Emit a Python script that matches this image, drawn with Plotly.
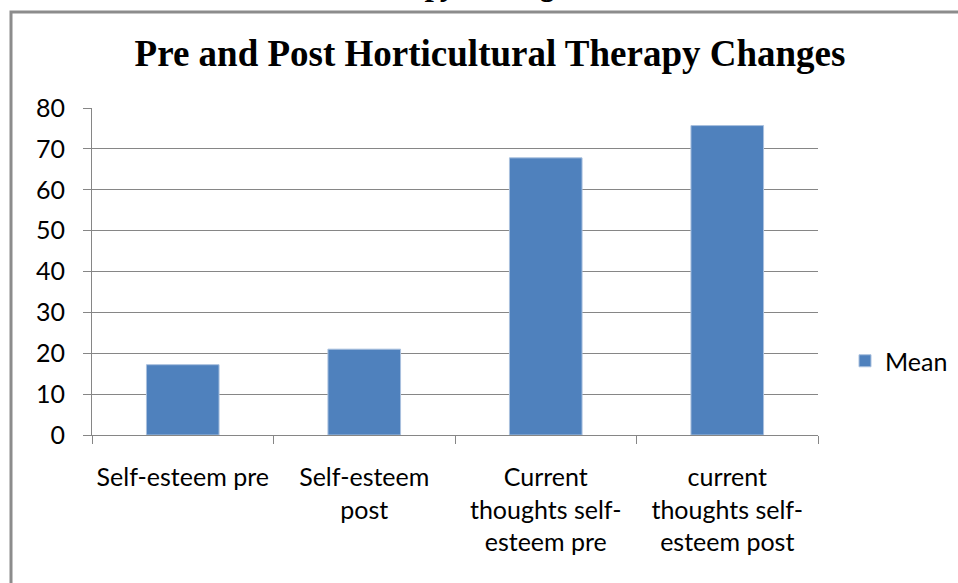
import plotly.graph_objects as go

categories = ["Self-esteem pre", "Self-esteem post",
              "Current thoughts self-esteem pre", "current thoughts self-esteem post"]
tick_labels = ["Self-esteem pre", "Self-esteem<br>post",
               "Current<br>thoughts self-<br>esteem pre", "current<br>thoughts self-<br>esteem post"]
mean_values = [17.2, 21.0, 67.8, 75.7]
y_ticks = [0, 10, 20, 30, 40, 50, 60, 70, 80]

W, H = 958, 583
L, R, T, B = 92, 140, 108, 148
pw, ph = W - L - R, H - T - B

def px_x(x):
    return (x - L) / pw

def px_y(y):
    return (H - B - y) / ph

grey = "#868686"
tick_font = dict(family="Lato, Calibri, sans-serif", size=25, color="#000000")

fig = go.Figure()
fig.add_trace(go.Bar(
    x=categories, y=mean_values, name="Mean",
    marker=dict(color="#4F81BD", line=dict(color="#A9C0DE", width=1)),
))

fig.update_layout(
    width=W, height=H,
    margin=dict(l=L, r=R, t=T, b=B, autoexpand=False),
    paper_bgcolor="white", plot_bgcolor="white",
    bargap=0.6,
    showlegend=True,
    legend=dict(x=px_x(845), y=px_y(361), xanchor="left", yanchor="middle",
                font=tick_font, bgcolor="rgba(0,0,0,0)"),
    title=dict(text="<b>Pre and Post Horticultural Therapy Changes</b>",
               font=dict(family="Liberation Serif, Times New Roman, serif", size=37, color="#000000"),
               x=490 / W, xanchor="center", xref="container",
               y=1 - 53 / H, yanchor="middle", yref="container"),
    xaxis=dict(
        type="category", tickmode="array", tickvals=categories, ticktext=tick_labels,
        tickson="boundaries", ticks="outside", ticklen=8, tickcolor=grey, tickwidth=1,
        showline=True, linecolor=grey, linewidth=1, showgrid=False,
        tickfont=tick_font, ticklabelstandoff=20, tickangle=0, automargin=False,
    ),
    yaxis=dict(
        range=[0, 80], tickmode="array", tickvals=y_ticks,
        ticks="outside", ticklen=8, tickcolor=grey, tickwidth=1,
        showline=True, linecolor=grey, linewidth=1,
        showgrid=True, gridcolor=grey, gridwidth=1, zeroline=False,
        tickfont=tick_font, ticklabelstandoff=13, automargin=False,
    ),
)

# outer frame (partially outside the page, as in the source picture)
fig.add_shape(type="rect", xref="paper", yref="paper",
              x0=px_x(11), x1=px_x(1100), y0=px_y(700), y1=px_y(12),
              line=dict(color="#8C8C8C", width=3), fillcolor="rgba(0,0,0,0)", layer="below")

# cut-off caption above the frame (only descenders visible)
fig.add_annotation(text="<b><i>Horticultural Therapy Changes</i></b>",
                   xref="paper", yref="paper", x=px_x(588), y=px_y(4),
                   xanchor="right", yanchor="bottom", showarrow=False,
                   font=dict(family="Liberation Serif, Times New Roman, serif", size=33, color="#000000"))

fig.write_html("out.html", config={"displayModeBar": False},
               post_script="document.body.style.margin='0';document.body.style.overflow='hidden';")
